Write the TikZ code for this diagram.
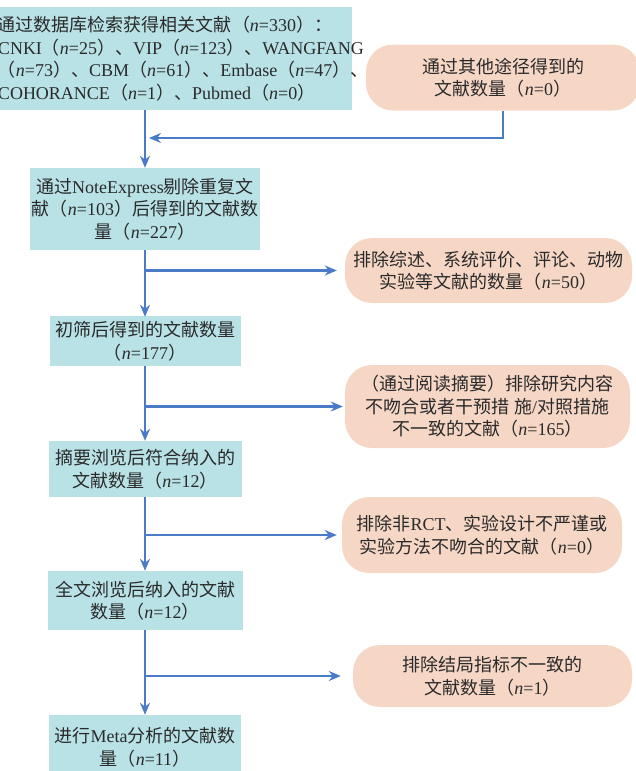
\documentclass[tikz,border=0pt]{standalone}
\usepackage{fontspec}
\setmainfont{Noto Sans CJK SC}
\newfontfamily\latf{Liberation Serif}
\usetikzlibrary{arrows.meta}
\newcommand\nv[1]{{\latf\textit{n}=#1}}
\newcommand\la[1]{{\latf #1}}
\definecolor{boxc}{HTML}{B9E2E7}
\definecolor{peach}{HTML}{F6D7C6}
\definecolor{lineb}{HTML}{4A7BC9}
\definecolor{txt}{HTML}{2A2A2A}
\begin{document}
\begin{tikzpicture}[x=1pt,y=-1pt,
  base/.style={inner sep=0pt, text=txt, font=\fontsize{18}{22.5}\selectfont, align=center},
  sq/.style={base, fill=boxc},
  rd/.style={base, fill=peach, rounded corners=27pt},
  flow/.style={draw=lineb, line width=2.1pt, -{Stealth[length=12pt,width=10pt]}}]
\useasboundingbox (0,0) rectangle (636,771);
\clip (0,0) rectangle (636,771);

\node[sq, align=left, text width=344pt, inner xsep=10pt, minimum height=103pt] (b1) at (170,58.5)
 {通过数据库检索获得相关文献（\nv{330}）：\\
  \la{CNKI}（\nv{25}）、\la{VIP}（\nv{123}）、\la{WANGFANG}\\
  （\nv{73}）、\la{CBM}（\nv{61}）、\la{Embase}（\nv{47}）、\\
  \la{COHORANCE}（\nv{1}）、\la{Pubmed}（\nv{0}）};

\node[rd, minimum width=274pt, minimum height=66pt] (r1) at (503,77.5)
 {通过其他途径得到的\\文献数量（\nv{0}）};

\node[sq, minimum width=230pt, minimum height=82pt] (b2) at (145,209)
 {通过\la{NoteExpress}剔除重复文\\献（\nv{103}）后得到的文献数\\量（\nv{227}）};

\node[rd, minimum width=287pt, minimum height=65pt] (r2) at (488.5,270.5)
 {排除综述、系统评价、评论、动物\\实验等文献的数量（\nv{50}）};

\node[sq, minimum width=191pt, minimum height=50pt] (b3) at (145,341)
 {初筛后得到的文献数量\\（\nv{177}）};

\node[rd, minimum width=285pt, minimum height=83pt] (r3) at (487.5,406.5)
 {（通过阅读摘要）排除研究内容\\不吻合或者干预措 施\la{/}对照措施\\不一致的文献（\nv{165}）};

\node[sq, minimum width=193pt, minimum height=56pt] (b4) at (145,469)
 {摘要浏览后符合纳入的\\文献数量（\nv{12}）};

\node[rd, minimum width=280pt, minimum height=76pt] (r4) at (482,535)
 {排除非\la{RCT}、实验设计不严谨或\\实验方法不吻合的文献（\nv{0}）};

\node[sq, minimum width=195pt, minimum height=59pt] (b5) at (145,600.5)
 {全文浏览后纳入的文献\\数量（\nv{12}）};

\node[rd, minimum width=279pt, minimum height=62pt] (r5) at (492.5,676)
 {排除结局指标不一致的\\文献数量（\nv{1}）};

\node[sq, minimum width=192pt, minimum height=64pt] (b6) at (145,747)
 {进行\la{Meta}分析的文献数\\量（\nv{11}）};

% main flow
\coordinate (j0) at (149,138);
\draw[flow] (b1.south -| b2.north) -- (b2.north);
\draw[flow] (r1.south) |- (j0);
\draw[flow] (b2.south) -- ([yshift=-1pt]b3.north);
\draw[flow] (b3.south) -- (b4.north);
\draw[flow] (b4.south) -- (b5.north);
\draw[flow] (b5.south) -- (b6.north);

% branches
\draw[flow] (r2.west -| b2.south) -- ([xshift=-8pt]r2.west);
\draw[flow] (r3.west -| b3.south) -- ([xshift=-2pt]r3.west);
\draw[flow] (r4.west -| b4.south) -- ([xshift=-5pt]r4.west);
\draw[flow] (r5.west -| b5.south) -- ([xshift=-12pt]r5.west);
\end{tikzpicture}
\end{document}
